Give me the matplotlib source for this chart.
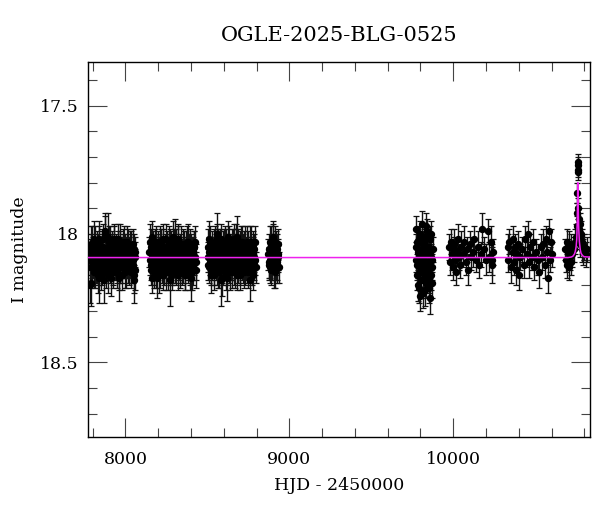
import matplotlib

matplotlib.use("Agg")
import matplotlib.pyplot as plt  # noqa: E402
from matplotlib.ticker import MultipleLocator  # noqa: E402

# (HJD - 2450000, I mag, error) per observing season
season1 = [
    (7782, 18.10, 0.06), (7786, 18.20, 0.07), (7790, 18.06, 0.06), (7794, 18.13, 0.06),
    (7799, 18.04, 0.07), (7803, 18.11, 0.06), (7808, 18.08, 0.05), (7812, 18.15, 0.06),
    (7817, 18.03, 0.06), (7821, 18.09, 0.06), (7826, 18.12, 0.07), (7830, 18.06, 0.06),
    (7835, 18.14, 0.06), (7839, 18.02, 0.07), (7844, 18.10, 0.06), (7848, 18.07, 0.05),
    (7853, 18.16, 0.06), (7857, 18.05, 0.06), (7862, 18.11, 0.06), (7866, 18.08, 0.07),
    (7871, 18.13, 0.06), (7875, 18.00, 0.07), (7880, 18.09, 0.06), (7884, 18.15, 0.06),
    (7889, 18.06, 0.06), (7893, 18.11, 0.05), (7898, 18.03, 0.06), (7902, 18.12, 0.06),
    (7907, 18.08, 0.06), (7911, 18.17, 0.07), (7916, 18.05, 0.06), (7920, 18.10, 0.06),
    (7925, 18.14, 0.06), (7929, 18.04, 0.07), (7934, 18.09, 0.06), (7938, 18.12, 0.06),
    (7943, 18.07, 0.05), (7947, 18.15, 0.06), (7952, 18.02, 0.06), (7956, 18.11, 0.06),
    (7961, 18.08, 0.07), (7965, 18.13, 0.06), (7970, 18.05, 0.06), (7974, 18.10, 0.06),
    (7979, 18.16, 0.06), (7983, 18.06, 0.06), (7988, 18.12, 0.05), (7992, 18.03, 0.06),
    (7997, 18.09, 0.06), (8001, 18.14, 0.07), (8006, 18.07, 0.06), (8010, 18.11, 0.06),
    (8015, 18.04, 0.06), (8019, 18.13, 0.06), (8024, 18.08, 0.07), (8028, 18.10, 0.06),
    (8033, 18.05, 0.06), (8037, 18.15, 0.06), (8042, 18.09, 0.06), (8047, 18.12, 0.07),
    (8052, 18.06, 0.06), (8056, 18.14, 0.08), (8060, 18.09, 0.06),
    (7784, 18.08, 0.06), (7788, 18.13, 0.06), (7792, 18.04, 0.07), (7797, 18.11, 0.06),
    (7801, 18.07, 0.06), (7806, 18.15, 0.06), (7810, 18.02, 0.07), (7815, 18.10, 0.06),
    (7819, 18.13, 0.06), (7824, 18.05, 0.06), (7828, 18.09, 0.06), (7833, 18.16, 0.07),
    (7837, 18.07, 0.06), (7842, 18.03, 0.06), (7846, 18.12, 0.06), (7851, 18.09, 0.06),
    (7855, 18.05, 0.07), (7860, 18.14, 0.06), (7864, 18.02, 0.06), (7869, 18.10, 0.06),
    (7873, 18.07, 0.06), (7878, 17.99, 0.07), (7882, 18.12, 0.06), (7887, 18.09, 0.06),
    (7891, 18.16, 0.07), (7896, 18.05, 0.06), (7900, 18.08, 0.06), (7905, 18.13, 0.06),
    (7909, 18.03, 0.06), (7914, 18.11, 0.06), (7918, 18.07, 0.07), (7923, 18.15, 0.06),
    (7927, 18.09, 0.06), (7932, 18.02, 0.06), (7936, 18.12, 0.06), (7941, 18.06, 0.06),
    (7945, 18.10, 0.07), (7950, 18.13, 0.06), (7954, 18.05, 0.06), (7959, 18.16, 0.06),
    (7963, 18.08, 0.06), (7968, 18.03, 0.07), (7972, 18.11, 0.06), (7977, 18.07, 0.06),
    (7981, 18.13, 0.06), (7986, 18.04, 0.06), (7990, 18.10, 0.07), (7995, 18.15, 0.06),
    (7999, 18.06, 0.06), (8004, 18.09, 0.06), (8008, 18.03, 0.06), (8013, 18.12, 0.07),
    (8017, 18.08, 0.06), (8022, 18.14, 0.06), (8026, 18.05, 0.06), (8031, 18.11, 0.06),
    (8035, 18.07, 0.07), (8040, 18.13, 0.06), (8044, 18.04, 0.06), (8049, 18.10, 0.06),
    (8054, 18.16, 0.07), (8058, 18.07, 0.06),
    (7790, 18.19, 0.09), (7892, 18.01, 0.09), (7870, 18.18, 0.09), (7840, 18.17, 0.10),
    (7960, 18.17, 0.09), (8055, 18.18, 0.09),
]
season2 = [
    (8147, 18.07, 0.06), (8151, 18.03, 0.07), (8156, 18.12, 0.06), (8160, 18.17, 0.06),
    (8165, 18.08, 0.06), (8169, 18.05, 0.06), (8174, 18.13, 0.07), (8178, 18.10, 0.06),
    (8183, 18.04, 0.06), (8187, 18.15, 0.06), (8192, 18.09, 0.05), (8196, 18.06, 0.06),
    (8201, 18.12, 0.06), (8205, 18.08, 0.06), (8210, 18.14, 0.07), (8214, 18.03, 0.06),
    (8219, 18.10, 0.06), (8223, 18.07, 0.06), (8228, 18.16, 0.06), (8232, 18.05, 0.07),
    (8237, 18.11, 0.06), (8241, 18.08, 0.06), (8246, 18.13, 0.06), (8250, 18.02, 0.06),
    (8255, 18.09, 0.06), (8259, 18.15, 0.07), (8264, 18.06, 0.06), (8268, 18.11, 0.06),
    (8273, 18.04, 0.06), (8277, 18.12, 0.06), (8282, 18.08, 0.07), (8286, 18.14, 0.06),
    (8291, 18.01, 0.06), (8295, 18.10, 0.06), (8300, 18.07, 0.06), (8304, 18.13, 0.06),
    (8309, 18.05, 0.07), (8313, 18.11, 0.06), (8318, 18.03, 0.06), (8322, 18.16, 0.06),
    (8327, 18.09, 0.06), (8331, 18.06, 0.06), (8336, 18.12, 0.07), (8340, 18.08, 0.06),
    (8345, 18.14, 0.06), (8349, 18.04, 0.06), (8354, 18.10, 0.06), (8358, 18.07, 0.06),
    (8363, 18.15, 0.07), (8367, 18.05, 0.06), (8372, 18.11, 0.06), (8376, 18.09, 0.06),
    (8381, 18.13, 0.06), (8385, 18.03, 0.07), (8390, 18.10, 0.06), (8394, 18.16, 0.06),
    (8399, 18.06, 0.06), (8403, 18.12, 0.06), (8408, 18.08, 0.07), (8412, 18.14, 0.06),
    (8417, 18.05, 0.06), (8421, 18.10, 0.06), (8426, 18.03, 0.06), (8430, 18.11, 0.07),
    (8149, 18.10, 0.06), (8154, 18.14, 0.06), (8158, 18.05, 0.07), (8163, 18.01, 0.06),
    (8167, 18.11, 0.06), (8172, 18.07, 0.06), (8176, 18.15, 0.06), (8181, 18.08, 0.07),
    (8185, 18.03, 0.06), (8190, 18.12, 0.06), (8194, 18.09, 0.06), (8199, 18.05, 0.06),
    (8203, 18.16, 0.07), (8208, 18.07, 0.06), (8212, 18.11, 0.06), (8217, 18.04, 0.06),
    (8221, 18.13, 0.06), (8226, 18.09, 0.07), (8230, 18.02, 0.06), (8235, 18.14, 0.06),
    (8239, 18.06, 0.06), (8244, 18.10, 0.06), (8248, 18.15, 0.07), (8253, 18.05, 0.06),
    (8257, 18.11, 0.06), (8262, 18.08, 0.06), (8266, 18.03, 0.06), (8271, 18.13, 0.07),
    (8275, 18.09, 0.06), (8280, 18.05, 0.06), (8284, 18.16, 0.06), (8289, 18.07, 0.06),
    (8293, 18.12, 0.07), (8298, 18.04, 0.06), (8302, 18.10, 0.06), (8307, 18.14, 0.06),
    (8311, 18.06, 0.06), (8316, 18.09, 0.07), (8320, 18.02, 0.06), (8325, 18.12, 0.06),
    (8329, 18.07, 0.06), (8334, 18.15, 0.06), (8338, 18.04, 0.07), (8343, 18.11, 0.06),
    (8347, 18.08, 0.06), (8352, 18.13, 0.06), (8356, 18.05, 0.06), (8361, 18.10, 0.07),
    (8365, 18.16, 0.06), (8370, 18.07, 0.06), (8374, 18.03, 0.06), (8379, 18.12, 0.06),
    (8383, 18.09, 0.07), (8388, 18.06, 0.06), (8392, 18.14, 0.06), (8397, 18.04, 0.06),
    (8401, 18.10, 0.06), (8406, 18.15, 0.07), (8410, 18.07, 0.06), (8415, 18.12, 0.06),
    (8419, 18.05, 0.06), (8424, 18.09, 0.06), (8428, 18.14, 0.07),
    (8270, 18.18, 0.10), (8300, 18.02, 0.08), (8190, 18.17, 0.08), (8400, 18.17, 0.09),
]
season3 = [
    (8502, 18.09, 0.06), (8506, 18.05, 0.07), (8511, 18.13, 0.06), (8515, 18.03, 0.06),
    (8520, 18.11, 0.06), (8524, 18.16, 0.07), (8529, 18.07, 0.06), (8533, 18.10, 0.06),
    (8538, 18.04, 0.06), (8542, 18.14, 0.06), (8547, 18.08, 0.07), (8551, 18.12, 0.06),
    (8556, 18.02, 0.06), (8560, 18.09, 0.06), (8565, 18.15, 0.06), (8569, 18.06, 0.07),
    (8574, 18.11, 0.06), (8578, 18.04, 0.06), (8583, 18.13, 0.06), (8587, 18.08, 0.06),
    (8592, 18.17, 0.07), (8596, 18.05, 0.06), (8601, 18.10, 0.06), (8605, 18.03, 0.06),
    (8610, 18.12, 0.06), (8614, 18.07, 0.07), (8619, 18.14, 0.06), (8623, 18.09, 0.06),
    (8628, 18.01, 0.06), (8632, 18.11, 0.06), (8637, 18.06, 0.06), (8641, 18.15, 0.07),
    (8646, 18.08, 0.06), (8650, 18.12, 0.06), (8655, 18.04, 0.06), (8659, 18.10, 0.06),
    (8664, 18.13, 0.07), (8668, 18.06, 0.06), (8673, 18.02, 0.06), (8677, 18.09, 0.06),
    (8682, 18.16, 0.06), (8686, 18.05, 0.07), (8691, 18.11, 0.06), (8695, 18.07, 0.06),
    (8700, 18.14, 0.06), (8704, 18.03, 0.06), (8709, 18.10, 0.07), (8713, 18.12, 0.06),
    (8718, 18.06, 0.06), (8722, 18.15, 0.06), (8727, 18.08, 0.06), (8731, 18.04, 0.07),
    (8736, 18.11, 0.06), (8740, 18.09, 0.06), (8745, 18.13, 0.06), (8749, 18.05, 0.06),
    (8754, 18.10, 0.07), (8758, 18.07, 0.06), (8763, 18.14, 0.06), (8767, 18.03, 0.06),
    (8772, 18.12, 0.06), (8776, 18.08, 0.07), (8781, 18.16, 0.06), (8785, 18.06, 0.06),
    (8790, 18.10, 0.06), (8794, 18.13, 0.06),
    (8504, 18.12, 0.06), (8508, 18.07, 0.06), (8513, 18.02, 0.07), (8517, 18.10, 0.06),
    (8522, 18.14, 0.06), (8526, 18.05, 0.06), (8531, 18.12, 0.06), (8535, 18.08, 0.07),
    (8540, 18.16, 0.06), (8544, 18.03, 0.06), (8549, 18.10, 0.06), (8553, 18.06, 0.06),
    (8558, 18.13, 0.07), (8562, 18.09, 0.06), (8567, 18.04, 0.06), (8571, 18.15, 0.06),
    (8576, 18.08, 0.06), (8580, 18.11, 0.07), (8585, 18.02, 0.06), (8589, 18.13, 0.06),
    (8594, 18.07, 0.06), (8598, 18.14, 0.06), (8603, 18.05, 0.07), (8607, 18.10, 0.06),
    (8612, 18.16, 0.06), (8616, 18.04, 0.06), (8621, 18.11, 0.06), (8625, 18.07, 0.07),
    (8630, 18.13, 0.06), (8634, 18.03, 0.06), (8639, 18.09, 0.06), (8643, 18.12, 0.06),
    (8648, 18.05, 0.07), (8652, 18.15, 0.06), (8657, 18.08, 0.06), (8661, 18.02, 0.06),
    (8666, 18.11, 0.06), (8670, 18.14, 0.07), (8675, 18.06, 0.06), (8679, 18.10, 0.06),
    (8684, 18.04, 0.06), (8688, 18.13, 0.06), (8693, 18.09, 0.07), (8697, 18.05, 0.06),
    (8702, 18.16, 0.06), (8706, 18.08, 0.06), (8711, 18.03, 0.06), (8715, 18.12, 0.07),
    (8720, 18.09, 0.06), (8724, 18.05, 0.06), (8729, 18.14, 0.06), (8733, 18.07, 0.06),
    (8738, 18.11, 0.07), (8742, 18.03, 0.06), (8747, 18.15, 0.06), (8751, 18.08, 0.06),
    (8756, 18.12, 0.06), (8760, 18.04, 0.07), (8765, 18.10, 0.06), (8769, 18.07, 0.06),
    (8774, 18.14, 0.06), (8778, 18.05, 0.06), (8783, 18.11, 0.07), (8787, 18.09, 0.06),
    (8792, 18.03, 0.06),
    (8585, 18.18, 0.10), (8560, 18.00, 0.08), (8680, 18.01, 0.08), (8620, 18.17, 0.09),
    (8760, 18.18, 0.08),
]
season4 = [
    (8873, 18.08, 0.06), (8877, 18.12, 0.06), (8881, 18.03, 0.06), (8885, 18.10, 0.07),
    (8889, 18.14, 0.06), (8893, 18.06, 0.06), (8897, 18.09, 0.06), (8901, 18.01, 0.06),
    (8905, 18.12, 0.06), (8909, 18.07, 0.07), (8913, 18.15, 0.06), (8917, 18.05, 0.06),
    (8921, 18.10, 0.06), (8925, 18.13, 0.06), (8929, 18.04, 0.06), (8933, 18.09, 0.06),
    (8875, 18.11, 0.06), (8879, 18.06, 0.06), (8883, 18.13, 0.06), (8887, 18.04, 0.07),
    (8891, 18.09, 0.06), (8895, 18.12, 0.06), (8899, 18.02, 0.06), (8903, 18.07, 0.06),
    (8907, 18.14, 0.07), (8911, 18.09, 0.06), (8915, 18.03, 0.06), (8919, 18.12, 0.06),
    (8923, 18.06, 0.06), (8927, 18.11, 0.07), (8931, 18.08, 0.06), (8935, 18.13, 0.06),
]
season5 = [
    (9771, 18.05, 0.05), (9775, 17.98, 0.05), (9779, 18.12, 0.06), (9783, 18.20, 0.06),
    (9787, 18.07, 0.05), (9791, 18.02, 0.05), (9795, 18.15, 0.06), (9799, 18.24, 0.06),
    (9803, 18.09, 0.05), (9807, 17.96, 0.05), (9811, 18.13, 0.05), (9815, 18.04, 0.05),
    (9819, 18.18, 0.06), (9823, 18.10, 0.05), (9827, 18.01, 0.05), (9831, 18.22, 0.06),
    (9835, 18.07, 0.05), (9839, 18.14, 0.05), (9843, 17.99, 0.05), (9847, 18.11, 0.05),
    (9851, 18.17, 0.06), (9855, 18.05, 0.05), (9859, 18.25, 0.06), (9863, 18.09, 0.05),
    (9867, 18.00, 0.05), (9871, 18.13, 0.05), (9875, 18.06, 0.05),
    (9773, 18.10, 0.05), (9777, 18.16, 0.06), (9781, 18.03, 0.05), (9785, 18.12, 0.05),
    (9789, 18.21, 0.06), (9793, 18.08, 0.05), (9797, 18.00, 0.05), (9801, 18.14, 0.05),
    (9805, 18.18, 0.06), (9809, 18.06, 0.05), (9813, 18.23, 0.06), (9817, 18.11, 0.05),
    (9821, 18.03, 0.05), (9825, 18.16, 0.05), (9829, 18.08, 0.05), (9833, 17.97, 0.05),
    (9837, 18.19, 0.06), (9841, 18.12, 0.05), (9845, 18.05, 0.05), (9849, 18.14, 0.05),
    (9853, 18.21, 0.06), (9857, 18.08, 0.05), (9861, 18.02, 0.05), (9865, 18.16, 0.06),
    (9869, 18.10, 0.05), (9873, 18.19, 0.06),
]
season6 = [
    (9972, 18.05, 0.05), (9978, 18.11, 0.05), (9984, 18.03, 0.05), (9990, 18.08, 0.06),
    (9996, 18.13, 0.05), (10002, 18.06, 0.05), (10008, 18.04, 0.06), (10014, 18.10, 0.05),
    (10020, 18.15, 0.05), (10026, 18.07, 0.05), (10032, 18.02, 0.06), (10038, 18.09, 0.05),
    (10044, 18.12, 0.05), (10050, 18.05, 0.06), (10060, 18.08, 0.05), (10068, 18.03, 0.06),
    (10076, 18.11, 0.05), (10084, 18.06, 0.05), (10092, 18.14, 0.06), (10100, 18.04, 0.05),
    (10110, 18.09, 0.05), (10120, 18.07, 0.06), (10130, 18.02, 0.05), (10140, 18.10, 0.05),
    (10150, 18.05, 0.06), (10160, 18.12, 0.05), (10170, 18.08, 0.05), (10176, 17.98, 0.06),
    (10190, 18.06, 0.05), (10200, 18.10, 0.06), (10215, 17.99, 0.05), (10220, 18.09, 0.06),
    (10230, 18.03, 0.06), (10235, 18.12, 0.07), (10238, 18.10, 0.06), (10244, 18.07, 0.05),
]
season7 = [
    (10332, 18.05, 0.05), (10337, 18.10, 0.05), (10343, 18.03, 0.05), (10350, 18.13, 0.06),
    (10362, 18.07, 0.05), (10368, 18.02, 0.05), (10374, 18.11, 0.05), (10380, 18.05, 0.05),
    (10386, 18.14, 0.06), (10392, 18.08, 0.05), (10398, 18.04, 0.05), (10404, 18.16, 0.06),
    (10410, 18.09, 0.05), (10420, 18.06, 0.05), (10430, 18.12, 0.05), (10440, 18.02, 0.05),
    (10448, 18.08, 0.05), (10455, 18.00, 0.05), (10462, 18.11, 0.06), (10470, 18.05, 0.05),
    (10478, 18.09, 0.05), (10486, 18.03, 0.05), (10494, 18.13, 0.05), (10505, 18.07, 0.05),
    (10515, 18.10, 0.06), (10525, 18.15, 0.06), (10533, 18.05, 0.05), (10541, 18.09, 0.05),
    (10550, 18.04, 0.06), (10558, 18.12, 0.05), (10566, 18.02, 0.05), (10574, 18.07, 0.05),
    (10580, 18.17, 0.06), (10586, 17.99, 0.05), (10592, 18.10, 0.05), (10598, 18.03, 0.05),
    (10603, 18.08, 0.05),
]
season8 = [
    (10684, 18.06, 0.04), (10688, 18.10, 0.05), (10692, 18.03, 0.05), (10696, 18.12, 0.05),
    (10700, 18.07, 0.05), (10704, 18.04, 0.05), (10708, 18.13, 0.05), (10712, 18.09, 0.05),
    (10716, 18.05, 0.05), (10720, 18.11, 0.05), (10724, 18.08, 0.05), (10740, 18.06, 0.05),
    (10745, 18.03, 0.05), (10750, 18.01, 0.05), (10753, 17.97, 0.04), (10756, 17.92, 0.04),
    (10758, 17.84, 0.04), (10759, 17.76, 0.03), (10760, 17.73, 0.03), (10761, 17.72, 0.03),
    (10762, 17.75, 0.03), (10764, 17.90, 0.04), (10766, 17.94, 0.04), (10768, 17.98, 0.04),
    (10771, 18.02, 0.04), (10774, 17.96, 0.04), (10776, 18.04, 0.05), (10779, 18.00, 0.05),
    (10783, 18.06, 0.05), (10788, 18.03, 0.05), (10793, 18.07, 0.05), (10800, 18.05, 0.05),
    (10808, 18.08, 0.05), (10815, 18.06, 0.05),
]
seasons = [season1, season2, season3, season4, season5, season6, season7, season8]

# microlensing model curve
model_t = [7700, 10700, 10720, 10730, 10740, 10745, 10750, 10754, 10757, 10759, 10760,
           10761, 10763, 10766, 10770, 10775, 10780, 10790, 10800, 10900]
model_mag = [18.092, 18.092, 18.090, 18.087, 18.078, 18.068, 18.050, 18.020, 17.950, 17.850,
             17.800, 17.820, 17.900, 17.980, 18.030, 18.060, 18.075, 18.085, 18.089, 18.092]

plt.rcParams["font.family"] = ["DejaVu Serif"]
plt.rcParams["font.size"] = 12.5

fig = plt.figure(figsize=(6, 5.12), dpi=100)
ax = fig.add_axes([0.1467, 0.147, 0.8367, 0.732])

for season in seasons:
    t = [row[0] for row in season]
    mag = [row[1] for row in season]
    err = [row[2] for row in season]
    ax.errorbar(t, mag, yerr=err, fmt="o", color="black", ms=4.3, elinewidth=1.0,
                capsize=2.5, capthick=0.9, ecolor="#111111", zorder=2)

ax.plot(model_t, model_mag, color="#ee22ee", lw=1.1, zorder=3)

ax.set_xlim(7772, 10835)
ax.set_ylim(18.79, 17.33)
ax.xaxis.set_major_locator(MultipleLocator(1000))
ax.xaxis.set_minor_locator(MultipleLocator(200))
ax.yaxis.set_major_locator(MultipleLocator(0.5))
ax.yaxis.set_minor_locator(MultipleLocator(0.1))
ax.set_yticks([17.5, 18.0, 18.5])
ax.set_yticklabels(["17.5", "18", "18.5"])
ax.tick_params(which="both", direction="in", top=True, right=True, width=0.8, color="#444444")
ax.tick_params(which="major", length=13.5)
ax.tick_params(which="minor", length=6.5)
ax.tick_params(axis="x", which="major", pad=10)
ax.tick_params(axis="y", which="major", pad=6.5)
for sp in ax.spines.values():
    sp.set_linewidth(1.0)

ax.set_title("OGLE-2025-BLG-0525", pad=15)
ax.set_xlabel("HJD - 2450000", labelpad=7)
ax.set_ylabel("I magnitude", labelpad=9)

fig.savefig("out.png", dpi=100)
